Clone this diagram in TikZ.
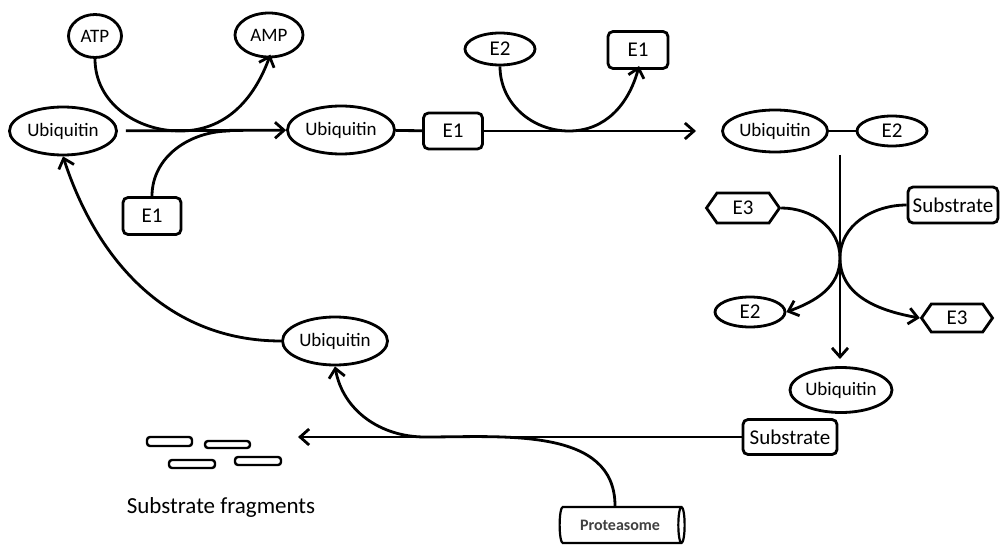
\documentclass[tikz,border=0pt]{standalone}
\usepackage{fontspec}
\setmainfont{Carlito}
\usetikzlibrary{arrows.meta,shapes.geometric,shapes.symbols}
\begin{document}
\begin{tikzpicture}[x=1pt,y=-1pt,
  line width=2.8pt,
  oval/.style={draw,ellipse,inner sep=0pt,font=\fontsize{19}{21}\selectfont},
  tag/.style={font=\fontsize{21}{23}\selectfont},
  box/.style={draw,rounded corners=5pt,inner sep=0pt,tag},
  hexa/.style={draw,signal,signal to=east and west,signal pointer angle=110,
    inner sep=0pt,tag},
  flow/.style={-{Straight Barb[length=9pt,width=16pt]}},
  frag/.style={draw,rounded corners=3pt,line width=2.4pt},
]
\useasboundingbox (0,0) rectangle (1000,545);

% activation by E1
\node[oval,minimum width=53,minimum height=43] (atp) at (95,36) {ATP};
\node[oval,minimum width=68,minimum height=44] (amp) at (269,35) {AMP};
\node[oval,minimum width=107,minimum height=48] (ub1) at (63,131) {Ubiquitin};
\node[box,minimum width=58,minimum height=37] (e1a) at (152,216) {E1};
\node[oval,minimum width=107,minimum height=48] (ub2) at (341,130) {Ubiquitin};
\node[box,minimum width=59,minimum height=36] (e1b) at (453,131) {E1};

% conjugation by E2
\node[oval,tag,minimum width=70,minimum height=32] (e2a) at (500,49) {E2};
\node[box,minimum width=60,minimum height=37] (e1c) at (638,50) {E1};
\node[oval,minimum width=105,minimum height=42] (ub3) at (775,131) {Ubiquitin};
\node[oval,tag,minimum width=70,minimum height=30] (e2b) at (892,131) {E2};

% ligation by E3
\node[hexa,minimum width=73,minimum height=30] (e3a) at (743,208) {E3};
\node[box,minimum width=90,minimum height=36] (sub1) at (953,205) {Substrate};
\node[oval,tag,minimum width=70,minimum height=30] (e2c) at (750,312) {E2};
\node[hexa,minimum width=71,minimum height=28] (e3b) at (957,318) {E3};
\node[oval,minimum width=102,minimum height=45] (ub4) at (841,390) {Ubiquitin};
\node[box,minimum width=94,minimum height=35] (sub2) at (790,437) {Substrate};

% degradation
\node[oval,minimum width=105,minimum height=48] (ub5) at (335,341) {Ubiquitin};
\node[draw,cylinder,shape aspect=0.6,minimum height=125,minimum width=36,
  inner sep=0pt,line width=2.2pt,text=black!75,
  font=\bfseries\fontsize{16}{18}\selectfont] (prot) at (620,525) {Proteasome};
\node[font=\fontsize{23}{25}\selectfont] (fragtxt) at (221,507) {Substrate fragments};
\draw[frag] (147,437) rectangle (192,446);
\draw[frag] (205,441) rectangle (250,448);
\draw[frag] (169,460) rectangle (215,468);
\draw[frag] (235,457) rectangle (281,465);

% connectors
\coordinate (j1) at (180,131);
\coordinate (j2) at (230,131);
\draw[flow,shorten <=8pt] (ub1) -- (ub2);
\draw[flow,shorten >=-4pt] (atp.south) to[out=270,in=180] (j1) to[out=0,in=250] (amp.south);
\draw (e1a.north) to[out=90,in=180] (j2);
\draw (ub2) -- (e1b);

\coordinate (t1) at (696,131);
\coordinate (j3) at (569,131);
\draw[flow] (e1b) -- (t1);
\draw[flow,shorten >=-4pt] (e2a.south) to[out=270,in=180] (j3) to[out=0,in=255] (e1c.south);
\draw (ub3) -- (e2b);

\coordinate (v1) at (840,155);
\coordinate (v2) at (840,359);
\coordinate (x1) at (840,258);
\draw[flow] (v1) -- (v2);
\draw[flow] (e3a.east) to[out=0,in=90] (x1) to[out=270,in=20] (e2c.east);
\draw[flow] (sub1.west) to[out=180,in=90] (x1) to[out=270,in=170] (e3b.west);

\coordinate (v3) at (298,437);
\coordinate (j4) at (425,437);
\draw[flow] (sub2.west) -- (v3);
\draw[flow] ([xshift=-5pt]prot.north) to[out=90,in=0] (j4) to[out=180,in=-80] (ub5.south);
\draw[flow] (ub5.west) to[out=180,in=-72] (ub1.south);
\end{tikzpicture}
\end{document}
